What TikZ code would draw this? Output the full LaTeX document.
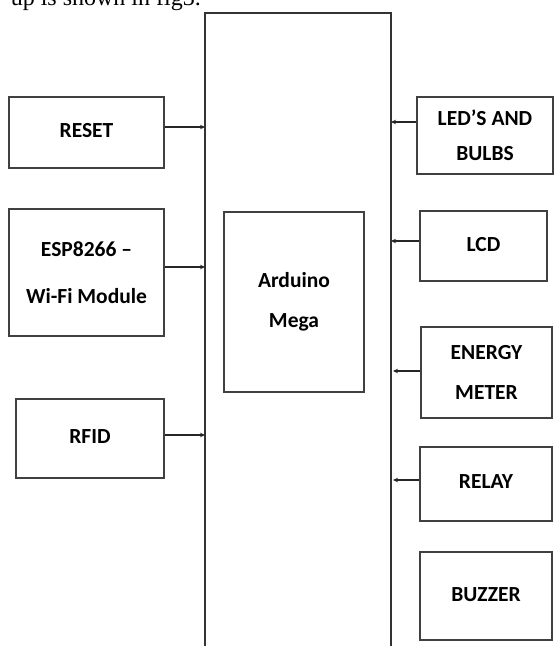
\documentclass[tikz,border=0pt]{standalone}
\usepackage{fontspec}
\setmainfont{Carlito}
\newfontfamily\serifpaper{Liberation Serif}
\usetikzlibrary{arrows.meta}
\begin{document}
\begin{tikzpicture}[x=1pt,y=-1pt,
  blk/.style={draw=black!75,line width=1.1pt,rectangle,inner sep=0pt,align=center,
    font=\fontsize{21.5}{26}\selectfont\bfseries},
  conn/.style={draw=black!85,line width=1.1pt,-{Stealth[length=5pt,width=4.5pt]}}]
\useasboundingbox (0,0) rectangle (555,646);
\begin{scope}
\clip (0,0) rectangle (555,646);
\node[anchor=base east,font=\serifpaper\fontsize{24}{28}\selectfont,inner sep=0pt] (cap) at (201,5) {up is shown in fig3.};
\coordinate (barL) at (205,13);
\coordinate (barR) at (391,13);
\draw[draw=black!80,line width=1.3pt] (205,650) -- (barL) -- (barR) -- (391,650);
\end{scope}
\node[blk,minimum width=155pt,minimum height=71pt] (reset) at (86.5,132.5) {\raisebox{4pt}{RESET}};
\node[blk,minimum width=155pt,minimum height=127pt] (esp) at (86.5,272.5) {ESP8266 --\\[21pt]Wi-Fi Module};
\node[blk,minimum width=148pt,minimum height=79pt] (rfid) at (90,438.5) {\raisebox{3pt}{RFID}};
\node[blk,minimum width=140pt,minimum height=180pt] (ard) at (294,302) {Arduino\\[14pt]Mega};
\node[blk,minimum width=136pt,minimum height=77pt] (led) at (485,135.5) {LED’S AND\\[9pt]BULBS};
\node[blk,minimum width=127pt,minimum height=70pt] (lcd) at (483.5,246) {\raisebox{4pt}{LCD}};
\node[blk,minimum width=131pt,minimum height=91pt] (em) at (486.5,372.5) {ENERGY\\[14pt]METER};
\node[blk,minimum width=132pt,minimum height=74pt] (relay) at (486,484) {\raisebox{4pt}{RELAY}};
\node[blk,minimum width=132pt,minimum height=88pt] (buzzer) at (486,596) {\raisebox{3pt}{BUZZER}};
\draw[conn] ([yshift=5.5pt]reset.east) -- ([yshift=5.5pt]reset.east -| barL);
\draw[conn] ([yshift=5.5pt]esp.east) -- ([yshift=5.5pt]esp.east -| barL);
\draw[conn] ([yshift=3.5pt]rfid.east) -- ([yshift=3.5pt]rfid.east -| barL);
\draw[conn] ([yshift=13.5pt]led.west) -- ([yshift=13.5pt]led.west -| barR);
\draw[conn] ([yshift=5pt]lcd.west) -- ([yshift=5pt]lcd.west -| barR);
\draw[conn] ([yshift=1.5pt]em.west) -- ([yshift=1.5pt,xshift=2pt]em.west -| barR);
\draw[conn] ([yshift=4pt]relay.west) -- ([yshift=4pt,xshift=2pt]relay.west -| barR);
\end{tikzpicture}
\end{document}
